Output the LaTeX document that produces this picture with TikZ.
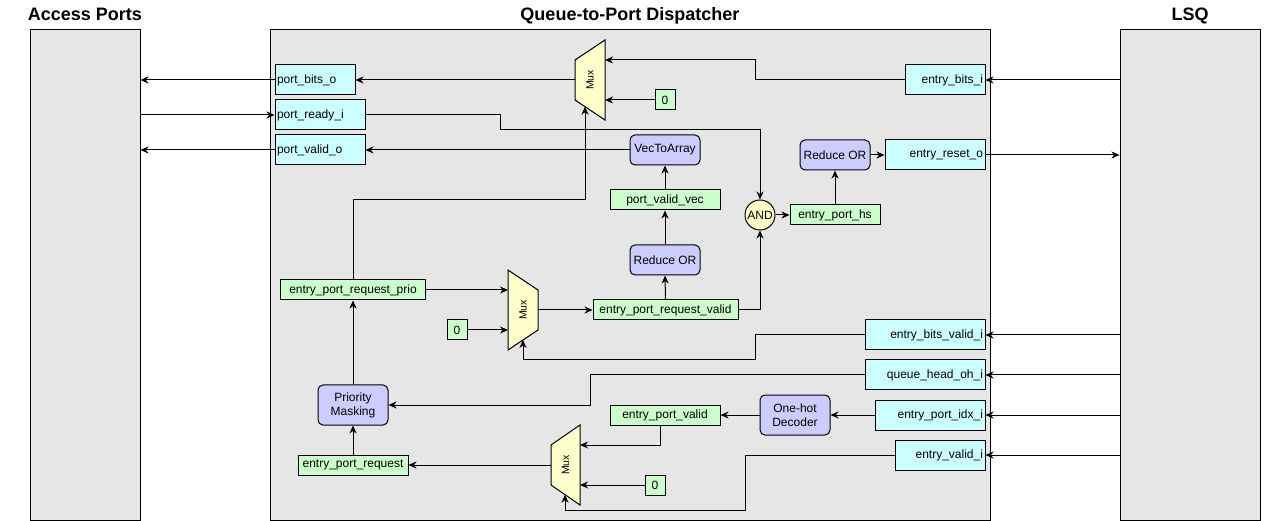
\documentclass[tikz,border=0pt]{standalone}
\usepackage{fontspec}
\setmainfont{Liberation Sans}
\usetikzlibrary{arrows.meta}
\definecolor{blockgray}{HTML}{E6E6E6}
\definecolor{sigcyan}{HTML}{CCFFFF}
\definecolor{siggreen}{HTML}{CCFFCC}
\definecolor{oppurple}{HTML}{CCCCFF}
\definecolor{muxyellow}{HTML}{FFFFCC}
\tikzset{
  wire/.style={line width=1pt, -{Stealth[length=8pt,width=7pt,inset=2.5pt]}},
  block/.style={draw, line width=1pt, fill=blockgray, inner sep=0pt},
  title/.style={anchor=base, font=\fontsize{18}{21}\selectfont\bfseries},
  sigbox/.style={draw, line width=1pt, fill=sigcyan, minimum height=30pt, inner xsep=2pt, inner ysep=0pt},
  portl/.style={sigbox, text width=#1, align=left},
  portr/.style={sigbox, text width=#1, align=right},
  wirebox/.style={draw, line width=1pt, fill=siggreen, minimum height=20pt, minimum width=#1, inner sep=0pt},
  opbox/.style={draw, line width=1pt, fill=oppurple, rounded corners=5pt, minimum width=70pt, minimum height=#1, inner sep=0pt, align=center},
  muxshape/.style={draw, line width=1pt, fill=muxyellow},
  muxtext/.style={rotate=90, inner sep=0pt, font=\fontsize{10.5}{12}\selectfont}
}
\begin{document}
\begin{tikzpicture}[x=1pt, y=-1pt, font=\fontsize{12}{14}\selectfont]
 \useasboundingbox (0,0) rectangle (1275,521);

 % outer blocks
 \node[block, minimum width=110pt, minimum height=490pt] (ap) at (85,275) {};
 \node[block, minimum width=720pt, minimum height=490pt] (qpd) at (630,275) {};
 \node[block, minimum width=140pt, minimum height=490pt] (lsq) at (1190,275) {};
 \node[title] (apt) at (85,21) {Access Ports};
 \node[title] (qpdt) at (630,21) {Queue-to-Port Dispatcher};
 \node[title] (lsqt) at (1190,21) {LSQ};

 % port signals
 \node[portl=76pt] (pbo) at (315,80) {port\_bits\_o};
 \node[portl=86pt] (pri) at (320,115) {port\_ready\_i};
 \node[portl=86pt] (pvo) at (320,150) {port\_valid\_o};

 % lsq signals
 \node[portr=76pt] (ebi) at (945,80) {entry\_bits\_i};
 \node[portr=96pt] (ero) at (935,155) {entry\_reset\_o};
 \node[portr=116pt] (ebvi) at (925,335) {entry\_bits\_valid\_i};
 \node[portr=116pt] (qhoi) at (925,375) {queue\_head\_oh\_i};
 \node[portr=106pt] (epii) at (930,415) {entry\_port\_idx\_i};
 \node[portr=86pt] (evi) at (940,455) {entry\_valid\_i};

 % internal wires
 \node[wirebox=20pt] (zero1) at (665,100) {0};
 \node[wirebox=110pt] (pvv) at (665,200) {port\_valid\_vec};
 \node[wirebox=145pt] (eprv) at (665.5,310) {entry\_port\_request\_valid};
 \node[wirebox=90pt] (eph) at (835,215) {entry\_port\_hs};
 \node[wirebox=145pt] (eprp) at (353,290) {entry\_port\_request\_prio};
 \node[wirebox=20pt] (zero2) at (457,330) {0};
 \node[wirebox=110pt] (epv) at (665,415) {entry\_port\_valid};
 \node[wirebox=20pt] (zero3) at (655,485) {0};
 \node[wirebox=110pt] (epr) at (353,465) {entry\_port\_request};

 % operators
 \node[opbox=30pt] (v2a) at (665,150) {VecToArray};
 \node[opbox=30pt] (ror2) at (665,260) {Reduce OR};
 \node[opbox=30pt] (ror1) at (835,155) {Reduce OR};
 \node[opbox=40pt] (pm) at (353,405) {Priority\\Masking};
 \node[opbox=40pt] (ohd) at (795,415) {One-hot\\Decoder};
 \node[draw, line width=1pt, fill=muxyellow, circle, minimum size=30pt, inner sep=0pt] (and) at (760,215) {AND};

 % muxes
 \draw[muxshape] (575,60) -- (605,40) -- (605,120) -- (575,100) -- cycle;
 \node[muxtext] (mux1) at (590,80) {Mux};
 \coordinate (m1out) at (575,80);
 \coordinate (m1a) at (605,60);
 \coordinate (m1b) at (605,100);
 \coordinate (m1s) at (585,106.7);

 \draw[muxshape] (508,270) -- (538,290) -- (538,330) -- (508,350) -- cycle;
 \node[muxtext] (mux2) at (523,310) {Mux};
 \coordinate (m2a) at (508,290);
 \coordinate (m2b) at (508,330);
 \coordinate (m2out) at (538,310);
 \coordinate (m2s) at (523,340);

 \draw[muxshape] (551,445) -- (580,425) -- (580,505) -- (551,485) -- cycle;
 \node[muxtext] (mux3) at (565.5,465) {Mux};
 \coordinate (m3out) at (551,465);
 \coordinate (m3a) at (580,445);
 \coordinate (m3b) at (580,485);
 \coordinate (m3s) at (565,494.7);

 % access ports side
 \draw[wire] (pbo.west) -- (pbo.west -| ap.east);
 \draw[wire] (pri.west -| ap.east) -- (pri.west);
 \draw[wire] (pvo.west) -- (pvo.west -| ap.east);

 % lsq side
 \draw[wire] (ebi.east -| lsq.west) -- (ebi.east);
 \draw[wire] (ero.east) -- (ero.east -| lsq.west);
 \draw[wire] (ebvi.east -| lsq.west) -- (ebvi.east);
 \draw[wire] (qhoi.east -| lsq.west) -- (qhoi.east);
 \draw[wire] (epii.east -| lsq.west) -- (epii.east);
 \draw[wire] (evi.east -| lsq.west) -- (evi.east);

 % data path
 \draw[wire] (m1out) -- (pbo.east);
 \draw[wire] (ebi.west) -| (755,60) -- (m1a);
 \draw[wire] (zero1.west) -- (m1b);
 \draw[wire] (eprp.north) |- (585,200) -- (m1s);

 % valid path
 \draw[wire] (v2a.west) -- (pvo.east);
 \draw[wire] (pvv.north) -- (v2a.south);
 \draw[wire] (ror2.north) -- (pvv.south);
 \draw[wire] (eprv.north) -- (ror2.south);
 \draw[wire] (m2out) -- (eprv.west);
 \draw[wire] (eprp.east) -- (m2a);
 \draw[wire] (zero2.east) -- (m2b);
 \draw[wire] (ebvi.west) -| (755,360) -| (m2s);

 % handshake
 \draw[wire] (pri.east) -| (500,130) -| (and.north);
 \draw[wire] (eprv.east) -| (and.south);
 \draw[wire] (and.east) -- (eph.west);
 \draw[wire] (eph.north) -- (ror1.south);
 \draw[wire] (ror1.east) -- (ero.west);

 % request path
 \draw[wire] (pm.north) -- (eprp.south);
 \draw[wire] (epr.north) -- (pm.south);
 \draw[wire] (qhoi.west) -| (590,405) -- (pm.east);
 \draw[wire] (m3out) -- (epr.east);
 \draw[wire] ([xshift=-5pt]epv.south) |- (m3a);
 \draw[wire] (zero3.west) -- (m3b);
 \draw[wire] (evi.west) -| (745,510) -| (m3s);
 \draw[wire] (ohd.west) -- (epv.east);
 \draw[wire] (epii.west) -- (ohd.east);
\end{tikzpicture}
\end{document}
